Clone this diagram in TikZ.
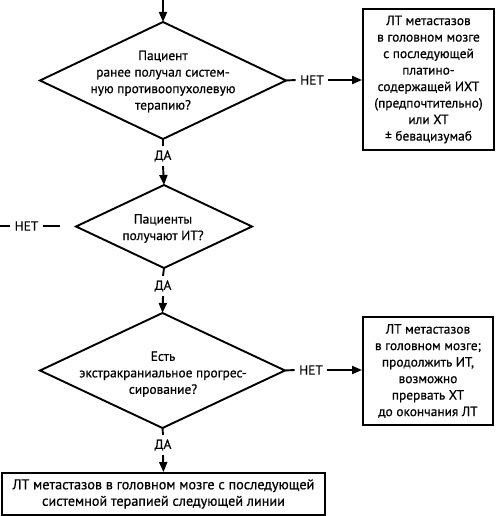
\documentclass[tikz,border=0pt]{standalone}
\usepackage{fontspec}
\setmainfont{PT Sans}[FakeBold=0.6]
\usetikzlibrary{shapes.geometric,arrows.meta}
\begin{document}
\begin{tikzpicture}[x=1pt,y=-1pt,
  line width=1.9pt,
  dia/.style={diamond, draw, inner sep=0pt, outer sep=0pt},
  txt/.style={align=center, font=\fontsize{13.4}{16.5}\selectfont, inner sep=0pt},
  box/.style={draw, align=center, font=\fontsize{13.4}{16.5}\selectfont, inner sep=0pt},
  lbl/.style={font=\fontsize{13.4}{16}\selectfont, inner sep=0pt, outer sep=4.5pt},
  arr/.style={-{Triangle[length=10pt,width=8pt]}},
]
\useasboundingbox (0,0) rectangle (496,516);

% decisions
\node[dia, minimum width=246pt, minimum height=117pt] (d1) at (163,80.5) {};
\node[txt] at (163,81.5) {Пациент\\ранее получал систем-\\ную противоопухолевую\\терапию?};

\node[dia, minimum width=176pt, minimum height=83pt] (d2) at (164,226.5) {};
\node[txt] at (163,228.5) {Пациенты\\получают ИТ?};

\node[dia, minimum width=245pt, minimum height=115pt] (d3) at (162.5,370.5) {};
\node[txt] at (163,374) {Есть\\экстракраниальное прогрес-\\сирование?};

% boxes
\node[box, minimum width=131pt, minimum height=141pt] (b1) at (428.5,79.5)
  {ЛТ метастазов\\в головном мозге\\с последующей\\платино-\\содержащей ИХТ\\(предпочтительно)\\или ХТ\\± бевацизумаб};
\node[box, minimum width=130pt, minimum height=108pt] (b2) at (428,371)
  {ЛТ метастазов\\в головном мозге;\\продолжить ИТ,\\возможно\\прервать ХТ\\до окончания ЛТ};
\node[box, minimum width=323pt, minimum height=42pt, font=\fontsize{14.2}{16.5}\selectfont] (b3) at (163.5,494)
  {ЛТ метастазов в головном мозге с последующей\\системной терапией следующей линии};

% labels
\node[lbl] (n1) at (312,80) {НЕТ};
\node[lbl] (y1) at (163,156) {ДА};
\node[lbl] (n2) at (26.5,226) {НЕТ};
\node[lbl] (y2) at (163,286) {ДА};
\node[lbl] (n3) at (311,370) {НЕТ};
\node[lbl] (y3) at (163,445) {ДА};

\coordinate (top) at (163,0);
\coordinate (l0) at (0,226);
\coordinate (l1) at (60,226);

% connectors
\draw[arr] (top) -- (d1.north);
\draw (d1.east) -- (n1.west);
\draw[arr] (n1.east) -- (n1.east -| b1.west);
\draw (d1.south) -- (y1.north);
\draw[arr] (y1.south) -- (d2.north);
\draw (l0) -- (n2.west);
\draw (n2.east) -- (l1);
\draw (d2.south) -- (y2.north);
\draw[arr] (y2.south) -- (d3.north);
\draw (d3.east) -- (n3.west);
\draw[arr] (n3.east) -- (n3.east -| b2.west);
\draw (d3.south) -- (y3.north);
\draw[arr] (y3.south) -- (b3.north);
\end{tikzpicture}
\end{document}
